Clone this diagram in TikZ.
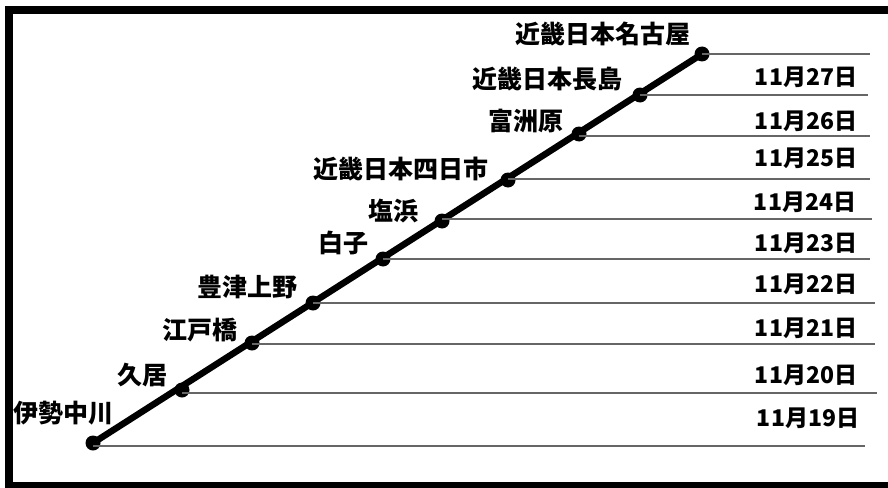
\documentclass[tikz,border=0pt]{standalone}
\usepackage{fontspec}
\newfontfamily\jp{Noto Sans CJK JP}
\begin{document}
\begin{tikzpicture}[x=1pt,y=-1pt,
  station/.style={circle,fill=black,inner sep=0pt,minimum size=15pt},
  rail/.style={line width=6.5pt,line cap=round},
  dayline/.style={draw=black!60,line width=1.3pt},
  stlabel/.style={anchor=east,inner sep=0pt,font=\jp\bfseries\fontsize{25}{25}\selectfont},
  datelabel/.style={anchor=center,inner sep=0pt,font=\jp\bfseries\fontsize{23}{24}\selectfont}]
\useasboundingbox (0,0) rectangle (888,487);
\clip (0,0) rectangle (888,487);
\fill[white] (0,0) rectangle (888,487);
\draw[line width=8pt] (8.5,10) rectangle (900,485.5);
% stations
\node[station] (s1) at (93,443) {};
\node[station] (s2) at (182,390) {};
\node[station] (s3) at (252,343) {};
\node[station] (s4) at (313,303) {};
\node[station] (s5) at (383,259) {};
\node[station] (s6) at (442,221) {};
\node[station] (s7) at (508,180) {};
\node[station] (s8) at (579,134) {};
\node[station] (s9) at (640,95) {};
\node[station] (s10) at (702,54) {};
\draw[rail] (s1.center) -- (s10.center);
% day lines
\coordinate (e1) at (865,446);
\coordinate (e2) at (877,393);
\coordinate (e3) at (875,344);
\coordinate (e4) at (875,303);
\coordinate (e5) at (870,259);
\coordinate (e6) at (872,219);
\coordinate (e7) at (870,179);
\coordinate (e8) at (870,136);
\coordinate (e9) at (868,95);
\coordinate (e10) at (870,54);
\foreach \i in {1,...,10}
  \draw[dayline] (s\i.center |- e\i) -- (e\i);
% station labels
\node[stlabel] (l1) at (114,413) {伊勢中川};
\node[stlabel] (l2) at (168,375) {久居};
\node[stlabel] (l3) at (238,330) {江戸橋};
\node[stlabel] (l4) at (298,287) {豊津上野};
\node[stlabel] (l5) at (369,243) {白子};
\node[stlabel] (l6) at (419,211) {塩浜};
\node[stlabel] (l7) at (489,169) {近畿日本四日市};
\node[stlabel] (l8) at (564,121) {富洲原};
\node[stlabel] (l9) at (623,79) {近畿日本長島};
\node[stlabel] (l10) at (691,34) {近畿日本名古屋};
% dates
\node[datelabel] (d19) at (808,418) {11月19日};
\node[datelabel] (d20) at (806,375) {11月20日};
\node[datelabel] (d21) at (806,328) {11月21日};
\node[datelabel] (d22) at (806,284) {11月22日};
\node[datelabel] (d23) at (806,243) {11月23日};
\node[datelabel] (d24) at (805,202) {11月24日};
\node[datelabel] (d25) at (806,158) {11月25日};
\node[datelabel] (d26) at (806,121) {11月26日};
\node[datelabel] (d27) at (806,77) {11月27日};
\end{tikzpicture}
\end{document}
